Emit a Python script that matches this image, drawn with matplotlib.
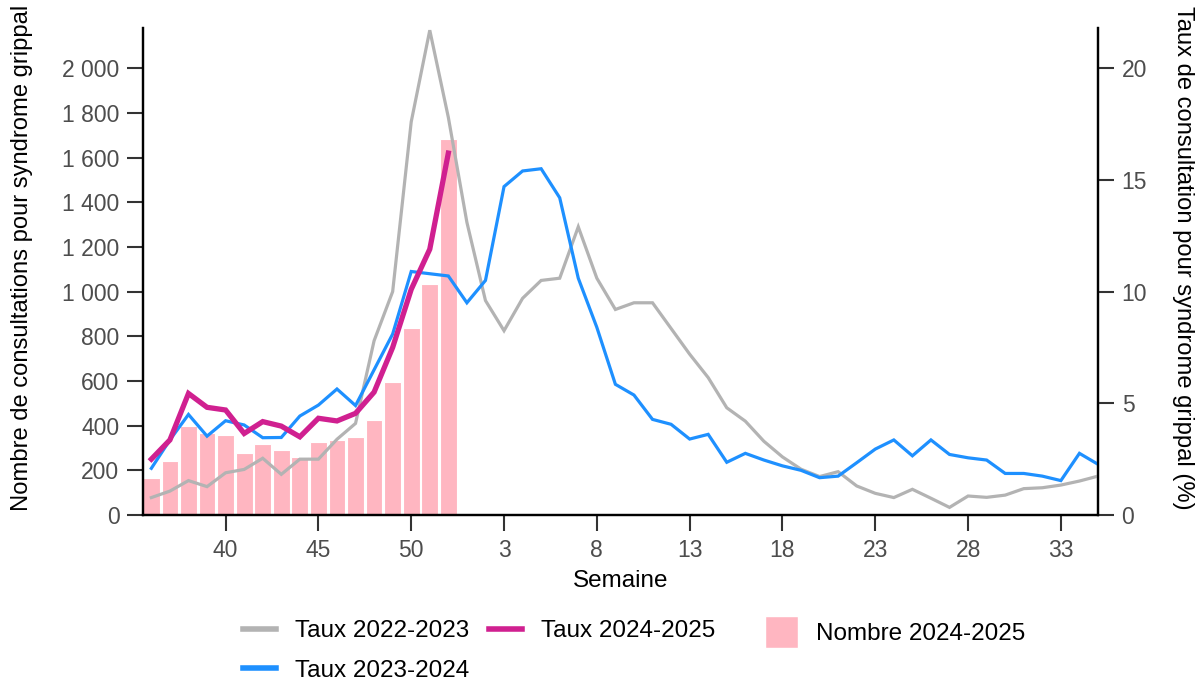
import numpy as np
import matplotlib
matplotlib.use("Agg")
import matplotlib.pyplot as plt
from matplotlib.ticker import FuncFormatter
from matplotlib.patches import Patch
from matplotlib.lines import Line2D

plt.rcParams['font.family'] = ['Liberation Sans', 'DejaVu Sans']

# semaines de la saison (36 -> 52, puis 1 -> 35)
semaines = list(range(36, 53)) + list(range(1, 36))
semaines_ticks = [40, 45, 50, 3, 8, 13, 18, 23, 28, 33]

# taux de consultation (%)
taux_2022_2023 = [0.78, 1.07, 1.54, 1.27, 1.89, 2.04, 2.54, 1.82, 2.5, 2.5,
                  3.39, 4.10, 7.8, 10.0, 17.6, 21.7, 17.8, 13.1, 9.6, 8.25,
                  9.7, 10.5, 10.6, 12.9, 10.6, 9.2, 9.5, 9.5, 8.35, 7.2,
                  6.15, 4.8, 4.2, 3.3, 2.6, 2.05, 1.72, 1.94, 1.30, 0.97,
                  0.78, 1.15, 0.75, 0.34, 0.85, 0.79, 0.89, 1.18, 1.22, 1.34,
                  1.52, 1.74]
taux_2023_2024 = [2.09, 3.36, 4.50, 3.53, 4.22, 4.03, 3.46, 3.47, 4.43, 4.92,
                  5.64, 4.9, 6.5, 8.1, 10.9, 10.8, 10.7, 9.5, 10.5, 14.7,
                  15.4, 15.5, 14.2, 10.6, 8.4, 5.85, 5.37, 4.28, 4.06, 3.40,
                  3.61, 2.36, 2.76, 2.46, 2.2, 2.0, 1.67, 1.74, 2.34, 2.95,
                  3.36, 2.65, 3.36, 2.71, 2.56, 2.46, 1.86, 1.86, 1.74, 1.54,
                  2.76, 2.27]
taux_2024_2025 = [2.5, 3.36, 5.44, 4.82, 4.70, 3.65, 4.18, 3.98, 3.50, 4.33,
                  4.21, 4.55, 5.5, 7.5, 10.1, 11.9, 16.2]

# nombre de consultations 2024-2025
nombre_2024_2025 = [164, 241, 400, 368, 358, 279, 316, 292, 261, 328,
                    336, 349, 425, 597, 835, 1035, 1685]

x = np.arange(len(semaines))
n = len(nombre_2024_2025)

fig = plt.figure(figsize=(12.01, 6.83), dpi=100)
ax = fig.add_axes([143/1201, 1 - 515/683, (1098-143)/1201, (515-28)/683])
ax2 = ax.twinx()

ax.bar(x[:n], nombre_2024_2025, width=0.9, color="#FFB6C1",
       edgecolor="white", linewidth=0.8)

ax2.plot(x, taux_2022_2023, color="#B3B3B3", lw=2.3, solid_joinstyle="miter")
ax2.plot(x, taux_2023_2024, color="#1E90FF", lw=2.3, solid_joinstyle="miter")
ax2.plot(x[:n], taux_2024_2025, color="#D02090", lw=3.8, solid_joinstyle="miter")

ax.set_xlim(-0.45, 51.0)
ax.set_ylim(0, 2180)
ax2.set_ylim(0, 21.8)

ax.set_yticks(range(0, 2001, 200))
ax.yaxis.set_major_formatter(FuncFormatter(lambda v, p: f"{int(v):,}".replace(",", " ")))
ax2.set_yticks([0, 5, 10, 15, 20])

pos = [semaines.index(s) for s in semaines_ticks]
ax.set_xticks(pos)
ax.set_xticklabels([str(s) for s in semaines_ticks])

for a in (ax, ax2):
    a.spines['top'].set_visible(False)
    for s in ('left', 'right', 'bottom'):
        a.spines[s].set_linewidth(1.6)
        a.spines[s].set_color("black")
    a.tick_params(length=11.5, width=1.5, color="#333333", labelsize=16.5,
                  labelcolor="#4D4D4D", pad=5.5)

ax.set_xlabel("Semaine", fontsize=17.5, labelpad=6)
ax.set_ylabel("Nombre de consultations pour syndrome grippal", fontsize=17.1)
ax2.set_ylabel("Taux de consultation pour syndrome grippal (%)", fontsize=17.1,
               rotation=270)
for lab in (ax.yaxis.label, ax2.yaxis.label):
    lab.set_va("center")
    lab.set_ha("center")
ax.yaxis.set_label_coords(-0.127, 0.528)
ax2.yaxis.set_label_coords(1.089, 0.528)

h_lines = [Line2D([], [], color="#B3B3B3", lw=4),
           Line2D([], [], color="#1E90FF", lw=4),
           Line2D([], [], color="#D02090", lw=4)]
leg1 = fig.legend(h_lines, ["Taux 2022-2023", "Taux 2023-2024", "Taux 2024-2025"],
                  ncol=2, loc="center left", bbox_to_anchor=(243/1201, 1 - 651/683),
                  frameon=False, fontsize=17.5, handlelength=1.35, handletextpad=0.8,
                  columnspacing=0.8, labelspacing=0.7, borderpad=0, borderaxespad=0)
leg2 = fig.legend([Patch(facecolor="#FFB6C1", edgecolor="white")], ["Nombre 2024-2025"],
                  loc="center left", bbox_to_anchor=(765/1201, 1 - 632/683),
                  frameon=False, fontsize=17.5, handlelength=1.35, handleheight=1.7,
                  handletextpad=0.75, borderpad=0, borderaxespad=0)

fig.savefig("out.png", dpi=100)
